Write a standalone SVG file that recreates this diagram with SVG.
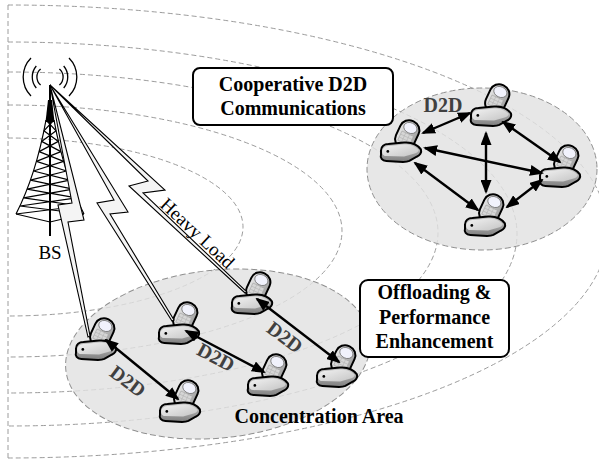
<svg xmlns="http://www.w3.org/2000/svg" xmlns:xlink="http://www.w3.org/1999/xlink" width="599" height="459" viewBox="0 0 599 459">
  <style>
    .arc { fill: none; stroke: #9c9c9c; stroke-width: 1; stroke-dasharray: 5 3; }
    .zone { fill: #e2e2e2; fill-opacity: 0.82; stroke: #8f8f8f; stroke-width: 1; stroke-dasharray: 6 3; }
    .box { fill: #ffffff; stroke: #000000; stroke-width: 2; }
    .lbl { font-family: "Liberation Serif", "Times New Roman", serif; font-weight: bold; font-size: 20px; text-anchor: middle; fill: #000000; }
    .d2d { font-family: "Liberation Serif", "Times New Roman", serif; font-weight: bold; font-size: 20px; text-anchor: middle; fill: #404040; }
    .plain { font-family: "Liberation Serif", "Times New Roman", serif; font-size: 19px; fill: #000000; }
    .bolt { fill: #f4f4f4; stroke: #000000; stroke-width: 1.1; stroke-linejoin: miter; }
    .link { fill: none; stroke: #000000; stroke-width: 2.4; marker-start: url(#ah); marker-end: url(#ah); }
    .tw { fill: none; stroke: #000000; stroke-width: 1.2; }
    .wave { fill: none; stroke: #000000; stroke-width: 1.3; }
  </style>
  <defs>
    <marker id="ah" viewBox="0 0 14 11" refX="12" refY="5.5" markerWidth="14" markerHeight="11" markerUnits="userSpaceOnUse" orient="auto-start-reverse">
      <path d="M0,0 L14,5.5 L0,11 Z" fill="#000000"/>
    </marker>
    <linearGradient id="gBase" x1="0" y1="0" x2="0" y2="1">
      <stop offset="0" stop-color="#c8c8c8"/>
      <stop offset="1" stop-color="#7e7e7e"/>
    </linearGradient>
    <linearGradient id="gTop" x1="0" y1="0" x2="1" y2="1">
      <stop offset="0" stop-color="#f2f2f2"/>
      <stop offset="1" stop-color="#c4c4c4"/>
    </linearGradient>
    <linearGradient id="gFlip" x1="0" y1="0" x2="1" y2="0">
      <stop offset="0" stop-color="#e6e6e6"/>
      <stop offset="1" stop-color="#a2a2a2"/>
    </linearGradient>
    <!-- clamshell handset icon, centred on its bounding box -->
    <g id="phone">
      <g transform="translate(5,-7) rotate(25)">
        <rect x="-9.5" y="-14" width="19" height="28" rx="9" fill="url(#gFlip)" stroke="#000" stroke-width="1.9"/>
        <ellipse cx="0" cy="-7" rx="6.5" ry="5" fill="#f1f2fc" stroke="#6e6e6e" stroke-width="0.7"/>
        <rect x="-6" y="-1" width="12" height="9.5" fill="#d6d6d6" stroke="#a0a0a0" stroke-width="0.5"/>
        <path d="M-6,2.2 H6 M-6,5.3 H6 M-2,-1 V8.5 M2,-1 V8.5" stroke="#b0b0b0" stroke-width="0.5"/>
      </g>
      <path d="M-20,8 C-20,4 -17,2 -13,2 L2,0.5 C9,0 15,3 18,7 C19,10 17,13 14,14 L7,18 C5,19 3,19 1,19 L-15,18 C-19,18 -21,15 -20,12 Z" fill="url(#gBase)" stroke="#000" stroke-width="1.9"/>
      <path d="M-18.8,8 C-18,5 -15,3.8 -12,3.8 L2,2.4 C8,2.2 13,4.4 16,7.4 C15.6,9.6 14,10.4 12,11 L2,13.8 L-15,13.4 C-18,13.2 -19.4,11 -18.8,8 Z" fill="url(#gTop)"/>
      <circle cx="-13.5" cy="9" r="1.3" fill="#000"/>
    </g>
  </defs>

  <rect width="599" height="459" fill="#ffffff"/>

  <!-- coverage contours around the base station -->
  <g id="contours">
    <line class="arc" x1="8" y1="5" x2="8" y2="458"/>
    <path class="arc" d="M8,5 A600,226.5 0 0 1 8,458"/>
    <path class="arc" d="M8,42 A509,192 0 0 1 8,426"/>
    <path class="arc" d="M8,72 A430,160.5 0 0 1 8,393"/>
    <path class="arc" d="M8,105 A334,126 0 0 1 8,357"/>
    <path class="arc" d="M8,138 A235,89 0 0 1 8,316"/>
  </g>

  <!-- shaded areas -->
  <g id="concentration-area">
    <ellipse class="zone" cx="218" cy="354" rx="153" ry="84" transform="rotate(-6 218 354)"/>
  </g>
  <g id="cooperative-area">
    <ellipse class="zone" cx="482" cy="169" rx="115" ry="81"/>
  </g>

  <!-- base station tower -->
  <g id="bs">
    <path class="wave" d="M40.6,69 A10.5,10.5 0 0 0 40.6,85 M59.4,69 A10.5,10.5 0 0 1 59.4,85"/>
    <path class="wave" d="M36.3,66 A17,17 0 0 0 36.3,88 M63.7,66 A17,17 0 0 1 63.7,88"/>
    <path class="wave" d="M31,58 A27,27 0 0 0 31,96 M69,58 A27,27 0 0 1 69,96"/>
    <line x1="50" y1="85" x2="50" y2="236" stroke="#000" stroke-width="2"/>
    <polygon points="48,100 52,100 54.5,122 45.5,122" fill="#000"/>
    <path class="tw" stroke-width="2" d="M46,120 Q36,175 16,214 M54,120 Q64,175 84,214 M16,214 L50,222 L84,214"/>
    <path class="tw" d="M46,120 L56.1,130.8 M54,120 L43.9,130.8
      M43.9,130.8 L58.4,141.4 M56.1,130.8 L41.6,141.4
      M41.6,141.4 L60.9,151.6 M58.4,141.4 L39.1,151.6
      M39.1,151.6 L63.6,161.4 M60.9,151.6 L36.4,161.4
      M36.4,161.4 L66.5,171 M63.6,161.4 L33.5,171
      M33.5,171 L69.6,180.2 M66.5,171 L30.4,180.2
      M30.4,180.2 L72.9,189.2 M69.6,180.2 L27.1,189.2
      M27.1,189.2 L76.4,197.8 M72.9,189.2 L23.6,197.8
      M23.6,197.8 L80.1,206 M76.4,197.8 L19.9,206
      M19.9,206 L84,214 M80.1,206 L16,214"/>
    <text class="plain" x="50" y="259" text-anchor="middle" font-size="20">BS</text>
  </g>

  <!-- handsets in the concentration area -->
  <g id="ue-1" transform="translate(97,340) scale(1.05)"><use xlink:href="#phone"/></g>
  <g id="ue-2" transform="translate(180,324) scale(1.05)"><use xlink:href="#phone"/></g>
  <g id="ue-3" transform="translate(253,294) scale(1.05)"><use xlink:href="#phone"/></g>
  <g id="ue-4" transform="translate(181,402) scale(1.05)"><use xlink:href="#phone"/></g>
  <g id="ue-5" transform="translate(269,376) scale(1.05)"><use xlink:href="#phone"/></g>
  <g id="ue-6" transform="translate(338,367) scale(1.05)"><use xlink:href="#phone"/></g>

  <!-- handsets in the cooperative cluster -->
  <g id="coop-1" transform="translate(402,142) scale(1.05)"><use xlink:href="#phone"/></g>
  <g id="coop-2" transform="translate(492,106) scale(1.05)"><use xlink:href="#phone"/></g>
  <g id="coop-3" transform="translate(561,167) scale(1.05)"><use xlink:href="#phone"/></g>
  <g id="coop-4" transform="translate(486,216) scale(1.05)"><use xlink:href="#phone"/></g>

  <g id="connectors">
    <!-- cellular links from the base station -->
    <polygon class="bolt" points="50,85 84,220 68,222 90,336 88,337 58,205 72,203"/>
    <polygon class="bolt" points="50,85 128,212 110,214 174,320 172,321 97,203 114,200"/>
    <polygon class="bolt" points="50,85 165,190 143,193 247,292 245,293 129,186 148,181"/>
    <!-- D2D links -->
    <line class="link" x1="106" y1="340" x2="178" y2="399"/>
    <line class="link" x1="186" y1="331" x2="264" y2="372"/>
    <line class="link" x1="257" y1="299" x2="339" y2="362"/>
    <line class="link" x1="423" y1="133" x2="470" y2="113"/>
    <line class="link" x1="425" y1="148" x2="542" y2="173"/>
    <line class="link" x1="503" y1="122" x2="560" y2="162"/>
    <line class="link" x1="486" y1="133" x2="486" y2="192"/>
    <line class="link" x1="415" y1="163" x2="478" y2="210"/>
    <line class="link" x1="507" y1="207" x2="542" y2="180"/>
  </g>

  <!-- link labels -->
  <g id="labels">
    <text class="plain" font-size="18.5" transform="translate(159,206) rotate(43)">Heavy Load</text>
    <text class="d2d" x="443" y="112">D2D</text>
    <text class="d2d" transform="translate(128,381) rotate(37)" y="7">D2D</text>
    <text class="d2d" transform="translate(216,357) rotate(28)" y="7">D2D</text>
    <text class="d2d" transform="translate(285,337) rotate(37)" y="7">D2D</text>
    <text class="lbl" x="319" y="423">Concentration Area</text>
  </g>

  <g id="box-cooperative">
    <rect class="box" x="193" y="68" width="200" height="57" rx="7"/>
    <text class="lbl" x="293" y="91">Cooperative D2D</text>
    <text class="lbl" x="293" y="115">Communications</text>
  </g>

  <g id="box-offloading">
    <rect class="box" x="360" y="280" width="149" height="77" rx="8"/>
    <text class="lbl" x="434.5" y="299">Offloading &amp;</text>
    <text class="lbl" x="434.5" y="324">Performance</text>
    <text class="lbl" x="434.5" y="348">Enhancement</text>
  </g>
</svg>
